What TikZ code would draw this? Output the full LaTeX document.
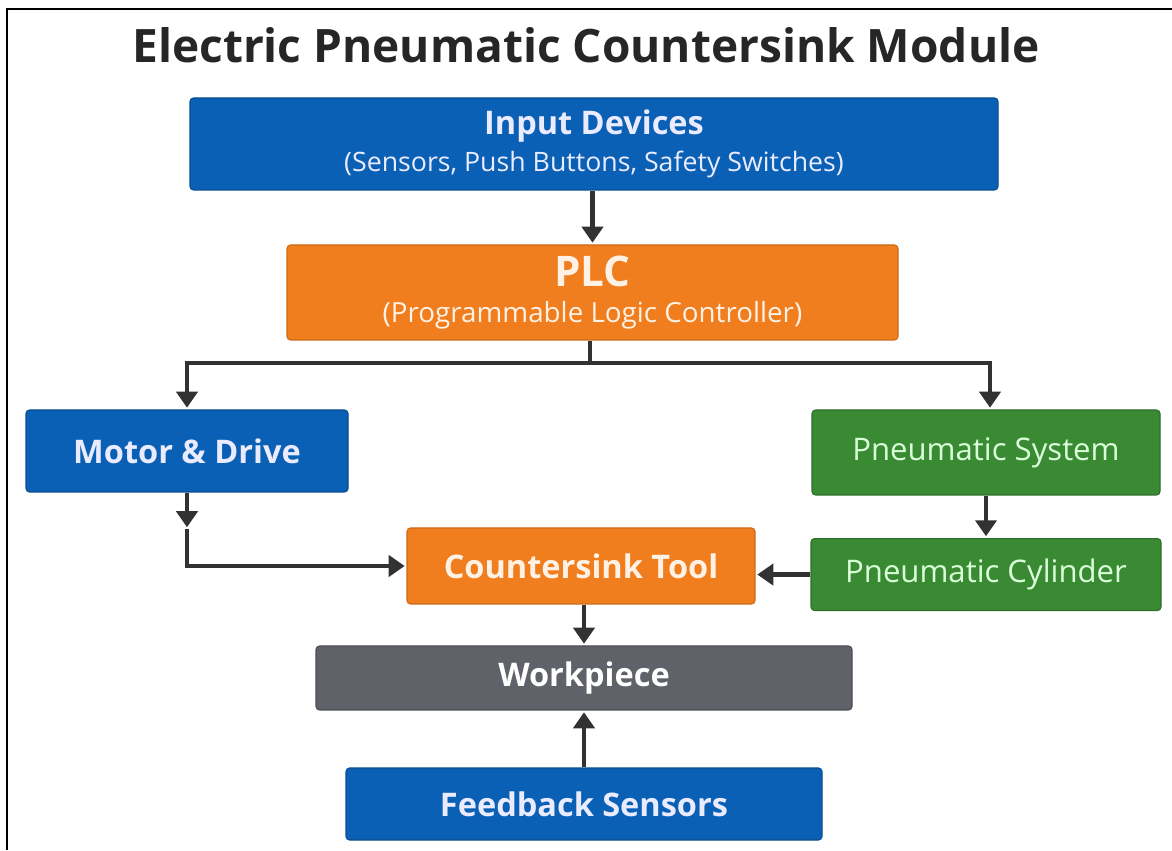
\documentclass[tikz,border=0pt]{standalone}
\usepackage{fontspec}
\setmainfont{Open Sans}
\usepackage{tikz}
\usetikzlibrary{arrows.meta}
\usetikzlibrary{positioning}

\definecolor{boxblue}{RGB}{10,96,180}
\definecolor{boxorange}{RGB}{240,125,30}
\definecolor{boxgreen}{RGB}{58,138,52}
\definecolor{boxgray}{RGB}{96,98,105}
\definecolor{arrowgray}{RGB}{50,50,50}

\begin{document}
\begin{tikzpicture}[->,>={Triangle[width=0.42cm,length=0.32cm]},shorten >=1pt,
  line width=2.4pt,draw=arrowgray,
  main node/.style={rectangle,rounded corners=2pt,align=center,line width=0.6pt,
    inner sep=0pt,font=\fontsize{18.5}{22}\selectfont\bfseries},
  blue node/.style={main node,fill=boxblue,draw=boxblue!80!black,text=blue!8!white},
  orange node/.style={main node,fill=boxorange,draw=boxorange!85!black,text=orange!10!white},
  green node/.style={main node,fill=boxgreen,draw=boxgreen!80!black,text=green!15!white,
    font=\fontsize{17.7}{22}\selectfont},
  gray node/.style={main node,fill=boxgray,draw=boxgray!80!black,text=white}]

  \useasboundingbox (0,0) rectangle (23.44,17);
  \fill[white] (0,0) rectangle (23.44,17);
  \draw[-,black,line width=1.2pt,shorten >=0pt] (0.14,0) -- (0.14,16.82) -- (23.44,16.82);

  \node[text=black!85,font=\fontsize{26.2}{31}\selectfont\bfseries] (title) at (11.72,16.1)
    {Electric Pneumatic Countersink Module};

  \node[blue node,minimum width=16.16cm,minimum height=1.84cm] (input) at (11.88,14.12)
    {Input Devices\\[-1pt]{\fontsize{15.2}{18}\selectfont\mdseries(Sensors, Push Buttons, Safety Switches)}};
  \node[orange node,minimum width=12.22cm,minimum height=1.9cm] (plc) at (11.85,11.15)
    {{\fontsize{24}{28}\selectfont PLC}\\[-2pt]{\fontsize{15.8}{18}\selectfont\mdseries(Programmable Logic Controller)}};

  \node[blue node,minimum width=6.44cm,minimum height=1.64cm] (motor) at (3.74,7.98) {Motor \& Drive};
  \node[green node,minimum width=6.96cm,minimum height=1.7cm] (psys) at (19.72,7.95) {Pneumatic System};
  \node[green node,minimum width=7cm,minimum height=1.44cm] (pcyl) [below=0.85cm of psys] {Pneumatic Cylinder};
  \node[orange node,minimum width=6.96cm,minimum height=1.52cm] (tool) at (11.62,5.68) {Countersink Tool};
  \node[gray node,minimum width=10.72cm,minimum height=1.28cm] (work) at (11.68,3.44) {Workpiece};
  \node[blue node,minimum width=9.52cm,minimum height=1.44cm] (feedback) at (11.68,0.92) {Feedback Sensors};

  \coordinate (split) at (11.8,9.74);
  \coordinate (mbend) at (3.74,6.42);

  \draw (input.south -| plc.north) -- (plc.north);
  \draw[-] (plc.south -| split) -- (split);
  \draw (split) -| (motor.north);
  \draw (split) -| ([xshift=0.08cm]psys.north);
  \draw (psys) -- (pcyl);
  \draw (motor) -- (mbend);
  \draw (mbend) |- (tool.west);
  \draw (pcyl.west) -- (pcyl.west -| tool.east);
  \draw (tool.south -| work.north) -- (work.north);
  \draw (feedback) -- (work);
\end{tikzpicture}
\end{document}
